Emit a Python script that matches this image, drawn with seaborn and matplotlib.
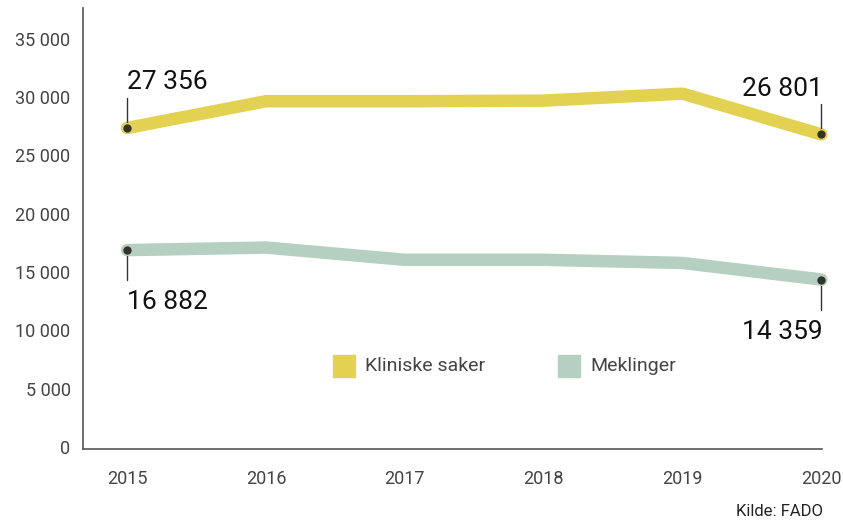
import numpy as np
import pandas as pd
import matplotlib
matplotlib.use("Agg")
import matplotlib.pyplot as plt
import seaborn as sns
from matplotlib.patches import Rectangle

# values
years = [2015, 2016, 2017, 2018, 2019, 2020]
kliniske = [27356, 29650, 29650, 29700, 30300, 26801]
meklinger = [16882, 17100, 16050, 16050, 15780, 14359]
series_names = ["Kliniske saker", "Meklinger"]
colors = ["#e3d152", "#b5cfc0"]
yticks = [0, 5000, 10000, 15000, 20000, 25000, 30000, 35000]

df = pd.DataFrame({
    "year": years * 2,
    "value": kliniske + meklinger,
    "serie": [series_names[0]] * len(years) + [series_names[1]] * len(years),
})

sns.set_style("white")
plt.rcParams["font.family"] = ["Roboto", "DejaVu Sans"]

fig = plt.figure(figsize=(8.43, 5.22), dpi=100)
ax = fig.add_axes([0.0985, 0.14, 0.877, 0.845])

sns.lineplot(data=df, x="year", y="value", hue="serie", palette=colors,
             linewidth=9, ax=ax, legend=False, solid_capstyle="round",
             solid_joinstyle="round")
for line in ax.get_lines():
    line.set_clip_on(False)

ax.set_xlim(2014.683, 2020.007)
ax.set_ylim(-170, 37660)
ax.set_xticks(years)
ax.set_yticks(yticks)
ax.set_yticklabels([f"{v:,}".replace(",", " ") for v in yticks],
                   fontsize=13, color="#444444")
ax.set_xticklabels([str(y) for y in years], fontsize=13, color="#444444")
ax.tick_params(axis="y", direction="in", length=16, width=1,
               color="#555555", pad=9)
ax.tick_params(axis="x", direction="in", length=10, width=1.4,
               color="#333333", pad=15)
ax.set_xlabel("")
ax.set_ylabel("")
for s in ["top", "right"]:
    ax.spines[s].set_visible(False)
for s in ["left", "bottom"]:
    ax.spines[s].set_color("#555555")
    ax.spines[s].set_linewidth(1.2)

# end-point markers and labels
ends = [
    (years[0], kliniske[0], colors[0], "up", "left"),
    (years[-1], kliniske[-1], colors[0], "up", "right"),
    (years[0], meklinger[0], colors[1], "down", "left"),
    (years[-1], meklinger[-1], colors[1], "down", "right"),
]
for x, y, c, d, ha in ends:
    off = 2600 if d == "up" else -2600
    ax.plot([x, x], [y, y + off], color="#333333", lw=1, zorder=4,
            clip_on=False)
    ax.plot(x, y, "o", ms=7, mfc="#33332b", mec=c, mew=1, zorder=5,
            clip_on=False)
    lab = f"{y:,}".replace(",", " ")
    dx = 0 if ha == "left" else 1
    if d == "up":
        ax.annotate(lab, (x, y + off), xytext=(dx, 6),
                    textcoords="offset points", ha=ha, va="baseline",
                    fontsize=19, color="#111111")
    else:
        ax.annotate(lab, (x, y + off), xytext=(dx, -7),
                    textcoords="offset points", ha=ha, va="top",
                    fontsize=19, color="#111111")

# legend
for i, (name, c) in enumerate(zip(series_names, colors)):
    x0 = 333 + i * 225
    fig.patches.append(Rectangle((x0 / 843, 1 - 377 / 522), 22 / 843, 22 / 522,
                                 transform=fig.transFigure, color=c))
    fig.text((x0 + 32) / 843, 1 - 366 / 522, name, fontsize=14,
             color="#444444", va="center", ha="left")

fig.text(823 / 843, 1 - 512 / 522, "Kilde: FADO", fontsize=12,
         color="#222222", ha="right", va="center")

fig.savefig("out.png", dpi=100)
